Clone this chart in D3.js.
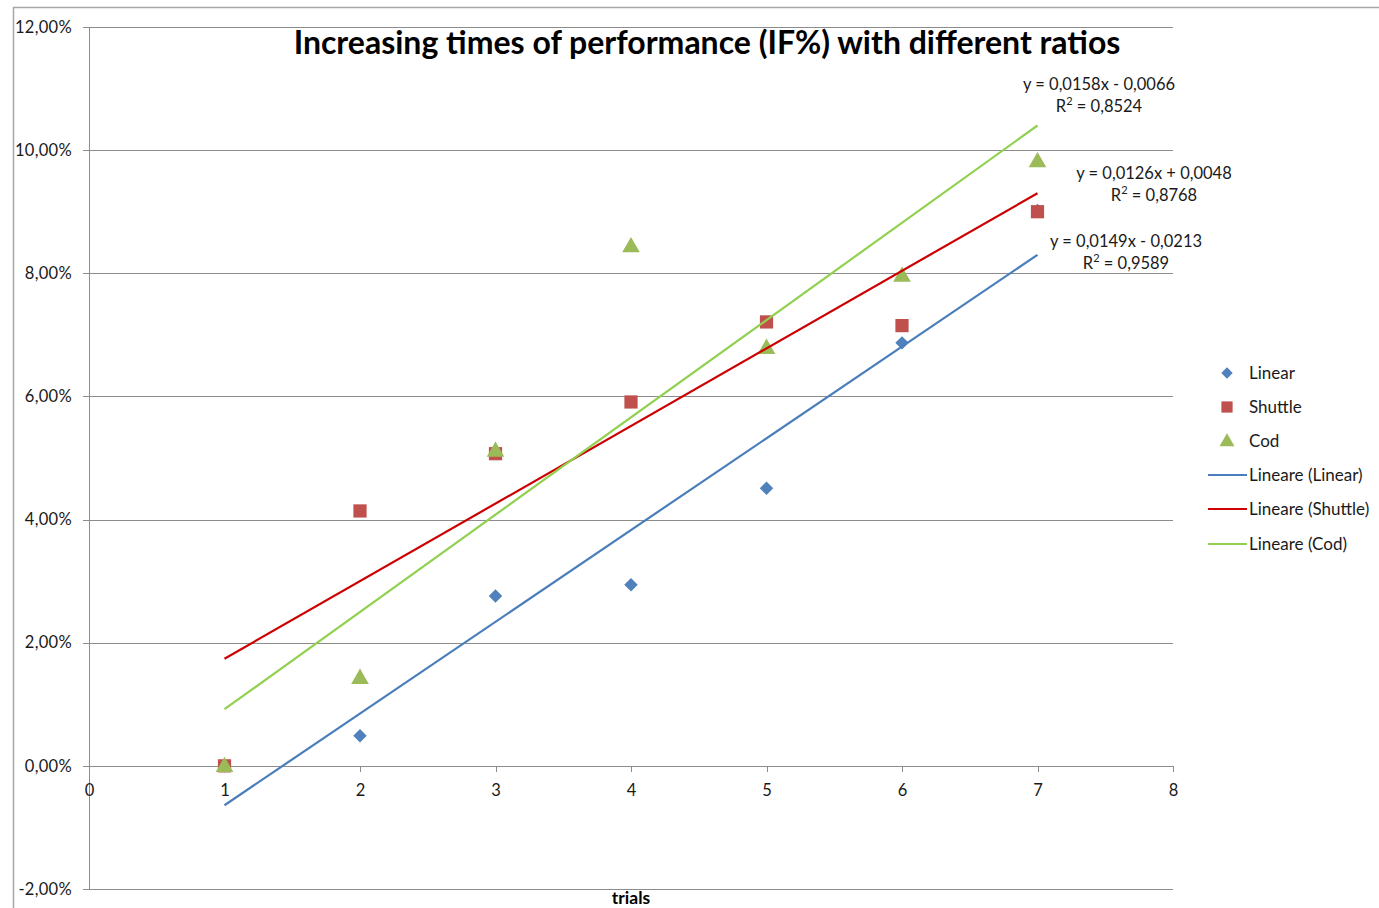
<!DOCTYPE html>
<html>
<head>
<meta charset="utf-8">
<script src="https://cdn.jsdelivr.net/npm/d3@7"></script>
<style>
  body { margin: 0; background: #fff; }
  svg { display: block; font-family: Lato, "Open Sans", sans-serif; }
</style>
</head>
<body>
<div id="chart"></div>
<script>
// values
const trials = [1, 2, 3, 4, 5, 6, 7];
const linearVals = [0, 0.0049, 0.0276, 0.0294, 0.0451, 0.0687, 0.0902];
const shuttleVals = [0, 0.0414, 0.0507, 0.0591, 0.0721, 0.0715, 0.0900];
const codVals = [0, 0.0143, 0.0512, 0.0844, 0.0679, 0.0796, 0.0982];
const seriesNames = ["Linear", "Shuttle", "Cod"];

// trendline coefficients as printed on the chart
const trendSlopes = [0.0149, 0.0126, 0.0158];
const trendIntercepts = [-0.0213, 0.0048, -0.0066];
const trendEquations = ["y = 0,0149x - 0,0213", "y = 0,0126x + 0,0048", "y = 0,0158x - 0,0066"];
const trendR2 = ["0,9589", "0,8768", "0,8524"];

const yTicks = [-0.02, 0, 0.02, 0.04, 0.06, 0.08, 0.10, 0.12];
const xTicks = [0, 1, 2, 3, 4, 5, 6, 7, 8];

const width = 1379;
const height = 908;

const markerColors = ["#4F81BD", "#C0504D", "#9BBB59"];
const lineColors = ["#4A7EBB", "#CC0000", "#92D050"];

const svg = d3.select("#chart")
    .append("svg")
    .attr("width", width)
    .attr("height", height);

svg.append("rect").attr("width", width).attr("height", height).attr("fill", "#fff");

// chart area frame (cut at right & bottom)
svg.append("path")
    .attr("d", "M13.5,908 V7.5 H1379")
    .attr("fill", "none")
    .attr("stroke", "#a6a6a6")
    .attr("stroke-width", 1.5);

const x = d3.scaleLinear().domain([0, 8]).range([89, 1173]);
const y = d3.scaleLinear().domain([-0.02, 0.12]).range([889, 27]);

// comma decimals, plain hyphen for negatives
const locale = d3.formatLocale({ decimal: ",", thousands: ".", grouping: [3], currency: ["", "€"], minus: "-" });
const pct = locale.format(".2%");

const labelFont = "16.5px";

// gridlines
svg.append("g")
    .attr("transform", `translate(${x(0)},0)`)
    .call(d3.axisLeft(y).tickValues(yTicks).tickSize(-(x(8) - x(0))).tickFormat(""))
    .call(g => g.select(".domain").remove())
    .call(g => g.selectAll("line").attr("stroke", "#8c8c8c").attr("shape-rendering", "crispEdges"));

// y axis
svg.append("g")
    .attr("transform", `translate(${x(0)},0)`)
    .call(d3.axisLeft(y).tickValues(yTicks).tickSize(6).tickPadding(11).tickFormat(pct))
    .call(g => g.select(".domain").attr("stroke", "#8c8c8c").attr("shape-rendering", "crispEdges"))
    .call(g => g.selectAll("line").attr("stroke", "#8c8c8c").attr("shape-rendering", "crispEdges"))
    .call(g => g.selectAll("text").attr("font-size", labelFont).attr("fill", "#1a1a1a")
        .attr("font-family", "Lato, sans-serif").attr("letter-spacing", "0.3px"));

// x axis at y = 0
svg.append("g")
    .attr("transform", `translate(0,${y(0)})`)
    .call(d3.axisBottom(x).tickValues(xTicks).tickSize(6).tickPadding(12).tickFormat(d3.format("d")))
    .call(g => g.select(".domain").attr("stroke", "#8c8c8c").attr("shape-rendering", "crispEdges"))
    .call(g => g.selectAll("line").attr("stroke", "#8c8c8c").attr("shape-rendering", "crispEdges"))
    .call(g => g.selectAll("text").attr("font-size", labelFont).attr("fill", "#1a1a1a")
        .attr("font-family", "Lato, sans-serif"));

// markers
const allVals = [linearVals, shuttleVals, codVals];
const symbols = [d3.symbolDiamond2, d3.symbolSquare, d3.symbolTriangle];
const symbolSizes = [115, 175, 135];

allVals.forEach((vals, i) => {
    const pts = trials.map((t, j) => ({ t: t, v: vals[j] }));
    svg.append("g").selectAll("path")
        .data(pts)
        .join("path")
        .attr("transform", d => `translate(${x(d.t)},${y(d.v) + (i === 2 ? 1 : 0)})`)
        .attr("d", d3.symbol(symbols[i], symbolSizes[i]))
        .attr("fill", markerColors[i]);
});

// trend lines
const line = d3.line().x(d => x(d[0])).y(d => y(d[1]));
trendSlopes.forEach((m, i) => {
    const t0 = d3.min(trials), t1 = d3.max(trials);
    svg.append("path")
        .datum([[t0, m * t0 + trendIntercepts[i]], [t1, m * t1 + trendIntercepts[i]]])
        .attr("d", line)
        .attr("fill", "none")
        .attr("stroke", lineColors[i])
        .attr("stroke-width", 2.2);
});

// trendline equation labels
const eqPos = [[1126, 247], [1154, 179], [1099, 90]];
eqPos.forEach((p, i) => {
    svg.append("text")
        .attr("x", p[0]).attr("y", p[1])
        .attr("text-anchor", "middle")
        .attr("font-size", labelFont)
        .attr("fill", "#1a1a1a")
        .text(trendEquations[i]);
    const r = svg.append("text")
        .attr("x", p[0]).attr("y", p[1] + 22)
        .attr("text-anchor", "middle")
        .attr("font-size", labelFont)
        .attr("fill", "#1a1a1a");
    r.append("tspan").text("R");
    r.append("tspan").attr("font-size", "11px").attr("dy", -7).text("2");
    r.append("tspan").attr("dy", 7).text(" = " + trendR2[i]);
});

// title
svg.append("text")
    .attr("x", 707)
    .attr("y", 54)
    .attr("text-anchor", "middle")
    .attr("font-size", "32px")
    .attr("font-weight", "bold")
    .attr("fill", "#000")
    .text("Increasing times of performance (IF%) with different ratios");

// axis title
svg.append("text")
    .attr("x", 631)
    .attr("y", 904)
    .attr("text-anchor", "middle")
    .attr("font-size", "17.5px")
    .attr("font-weight", "bold")
    .attr("fill", "#000")
    .text("trials");

// legend
const legendRows = [373, 407, 441, 475, 509, 544];
seriesNames.forEach((name, i) => {
    svg.append("path")
        .attr("transform", `translate(1227,${legendRows[i] + (i === 2 ? 1 : 0)})`)
        .attr("d", d3.symbol(symbols[i], symbolSizes[i] * 0.72))
        .attr("fill", markerColors[i]);
    svg.append("text")
        .attr("x", 1249).attr("y", legendRows[i] + 6)
        .attr("font-size", "17px")
        .attr("fill", "#1a1a1a")
        .text(name);
});
seriesNames.forEach((name, i) => {
    const ly = legendRows[i + 3];
    svg.append("line")
        .attr("x1", 1208).attr("x2", 1247)
        .attr("y1", ly).attr("y2", ly)
        .attr("stroke", lineColors[i])
        .attr("stroke-width", 2.2);
    svg.append("text")
        .attr("x", 1249).attr("y", ly + 6)
        .attr("font-size", "17px")
        .attr("fill", "#1a1a1a")
        .text("Lineare (" + name + ")");
});
</script>
</body>
</html>
